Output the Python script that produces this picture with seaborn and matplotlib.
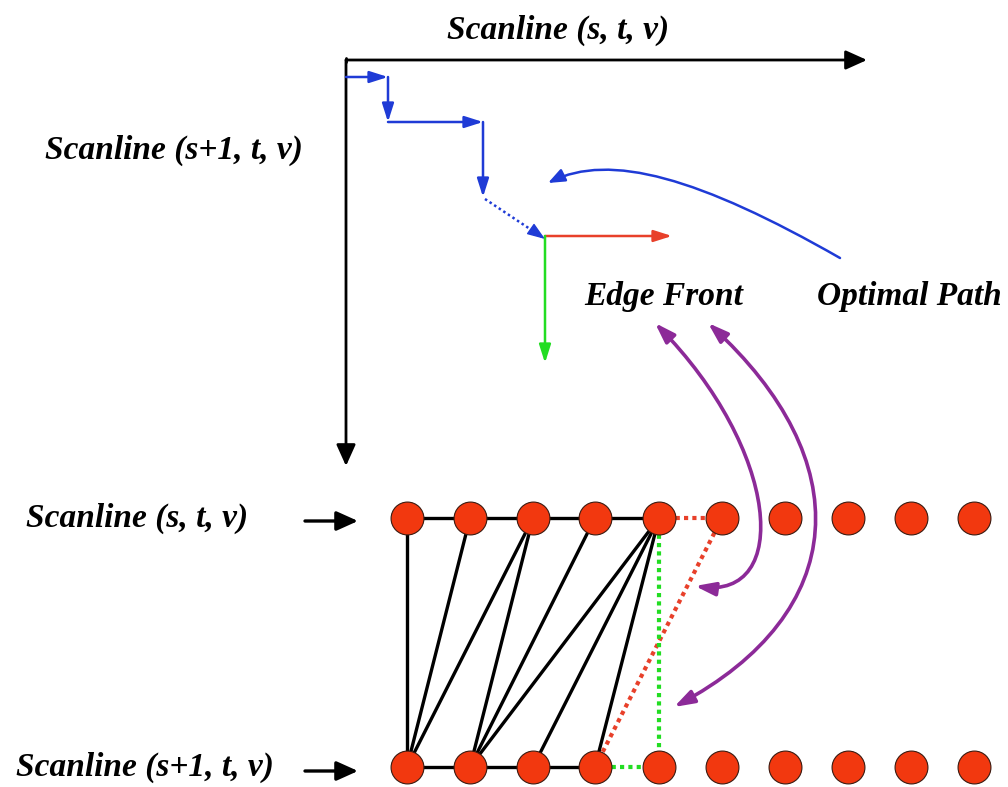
import matplotlib
matplotlib.use("Agg")
import matplotlib.pyplot as plt
import seaborn as sns
import pandas as pd
from matplotlib.patches import FancyArrowPatch
from matplotlib.path import Path

# ========================
# Diagram data (pixel space, y grows downward)
# ========================
node_x = [407, 470, 533, 595, 659, 722, 785, 848, 911, 974]
row_top_y = 518
row_bottom_y = 767

# triangle strip edges: (top index, bottom index)
strip_edges = [(0, 0), (1, 0), (2, 0), (2, 1), (3, 1), (4, 1), (4, 2), (4, 3)]
top_solid = [0, 1, 2, 3, 4]
bottom_solid = [0, 1, 2, 3]

# optimal path steps (blue)
path_x = [346, 388, 388, 483, 483]
path_y = [77, 77, 122, 122, 197]
dotted_step = [(485, 199), (545, 239)]

edge_front_x = [(545, 236), (672, 236)]
edge_front_y = [(545, 236), (545, 363)]

# curved pointer arrows (cubic bezier control points)
optimal_curve = [(840, 258), (700, 178), (610, 152), (548, 183)]
purple_curve_1 = [(655, 323), (780, 450), (792, 600), (695, 586)]
purple_curve_2 = [(708, 323), (858, 460), (852, 612), (674, 707)]

labels = {
    "top": ("Scanline (s, t, v)", 558, 30),
    "left": ("Scanline (s+1, t, v)", 174, 150),
    "row_top": ("Scanline (s, t, v)", 137, 518),
    "row_bottom": ("Scanline (s+1, t, v)", 145, 767),
    "edge": ("Edge Front", 664, 297),
    "optimal": ("Optimal Path", 909, 297),
}

NODE_RED = "#f2380f"
BLUE = "#1f3bd6"
PURPLE = "#8c2a98"
GREEN = "#22dd22"
RED = "#e8402a"

# ========================
# Figure
# ========================
sns.set_theme(style="white")
plt.rcParams["font.family"] = ["Liberation Serif", "DejaVu Serif"]

fig = plt.figure(figsize=(10.08, 7.87), dpi=100)
ax = fig.add_axes([0, 0, 1, 1])


def arrow(p0, p1, color="black", lw=2.0, ls="-", hl=1.0, hw=0.45, ms=13):
    ax.annotate("", xy=p1, xytext=p0,
                arrowprops=dict(arrowstyle=f"-|>,head_length={hl},head_width={hw}",
                                color=color, lw=lw, ls=ls, shrinkA=0, shrinkB=0,
                                mutation_scale=ms))


def curve(pts, style, color, lw=2.0, ms=10):
    p = Path(pts, [Path.MOVETO, Path.CURVE4, Path.CURVE4, Path.CURVE4])
    a = FancyArrowPatch(path=p, arrowstyle=style, color=color, lw=lw,
                        mutation_scale=ms, transform=ax.transData)
    ax.add_patch(a)


# axes arrows
arrow((346, 60), (867, 60), lw=2.0)
arrow((346, 60), (346, 466), lw=2.0)
ax.plot([346, 346], [58, 62], color="black", lw=2.0)

# row pointer arrows
arrow((305, 521), (358, 521), lw=2.4)
arrow((305, 771), (358, 771), lw=2.4)

# blue optimal path
for i in range(len(path_x) - 1):
    arrow((path_x[i], path_y[i]), (path_x[i + 1], path_y[i + 1]),
          color=BLUE, lw=1.8, hl=1.1, hw=0.35, ms=10)
ax.plot([dotted_step[0][0], dotted_step[1][0]], [dotted_step[0][1], dotted_step[1][1]],
        color=BLUE, lw=1.8, ls=(0, (1, 1.2)))
arrow((535, 232), dotted_step[1], color=BLUE, lw=1.0, hl=1.1, hw=0.4, ms=10)

# edge front
arrow(*edge_front_x, color=RED, lw=1.8, hl=1.1, hw=0.35, ms=10)
arrow(*edge_front_y, color=GREEN, lw=1.8, hl=1.1, hw=0.35, ms=10)

# curved pointers
curve(optimal_curve, "-|>,head_length=1.0,head_width=0.4", BLUE, lw=1.8, ms=10)
curve(purple_curve_1, "<|-|>,head_length=1.2,head_width=0.4", PURPLE, lw=2.6, ms=10)
curve(purple_curve_2, "<|-|>,head_length=1.2,head_width=0.4", PURPLE, lw=2.6, ms=10)

# triangle strip
ax.plot([node_x[i] for i in top_solid], [row_top_y] * len(top_solid),
        color="black", lw=2.4, zorder=3)
ax.plot([node_x[i] for i in bottom_solid], [row_bottom_y] * len(bottom_solid),
        color="black", lw=2.4, zorder=3)
for t, b in strip_edges:
    ax.plot([node_x[t], node_x[b]], [row_top_y, row_bottom_y],
            color="black", lw=2.4, zorder=3)

# candidate (dotted) edges
ax.plot([node_x[4], node_x[5]], [row_top_y, row_top_y], color=RED,
        lw=3, ls=(0, (1, 1)), zorder=3)
ax.plot([node_x[5], node_x[3]], [row_top_y, row_bottom_y], color=RED,
        lw=3, ls=(0, (1, 1)), zorder=3)
ax.plot([node_x[4], node_x[4]], [row_top_y, row_bottom_y], color=GREEN,
        lw=3, ls=(0, (1, 1)), zorder=3)
ax.plot([node_x[3], node_x[4]], [row_bottom_y, row_bottom_y], color=GREEN,
        lw=3, ls=(0, (1, 1)), zorder=3)

# nodes
nodes = pd.DataFrame({
    "x": node_x + node_x,
    "y": [row_top_y] * len(node_x) + [row_bottom_y] * len(node_x),
})
sns.scatterplot(data=nodes, x="x", y="y", s=560, color=NODE_RED,
                edgecolor="#3a1a10", linewidth=0.8, zorder=4, ax=ax, legend=False)
ax.set_xlim(0, 1008)
ax.set_ylim(787, 0)
ax.axis("off")

# labels
for text, x, y in labels.values():
    ax.text(x, y, text, ha="center", va="center", fontsize=24,
            fontweight="bold", fontstyle="italic", color="black")

fig.savefig("out.png", dpi=100)
